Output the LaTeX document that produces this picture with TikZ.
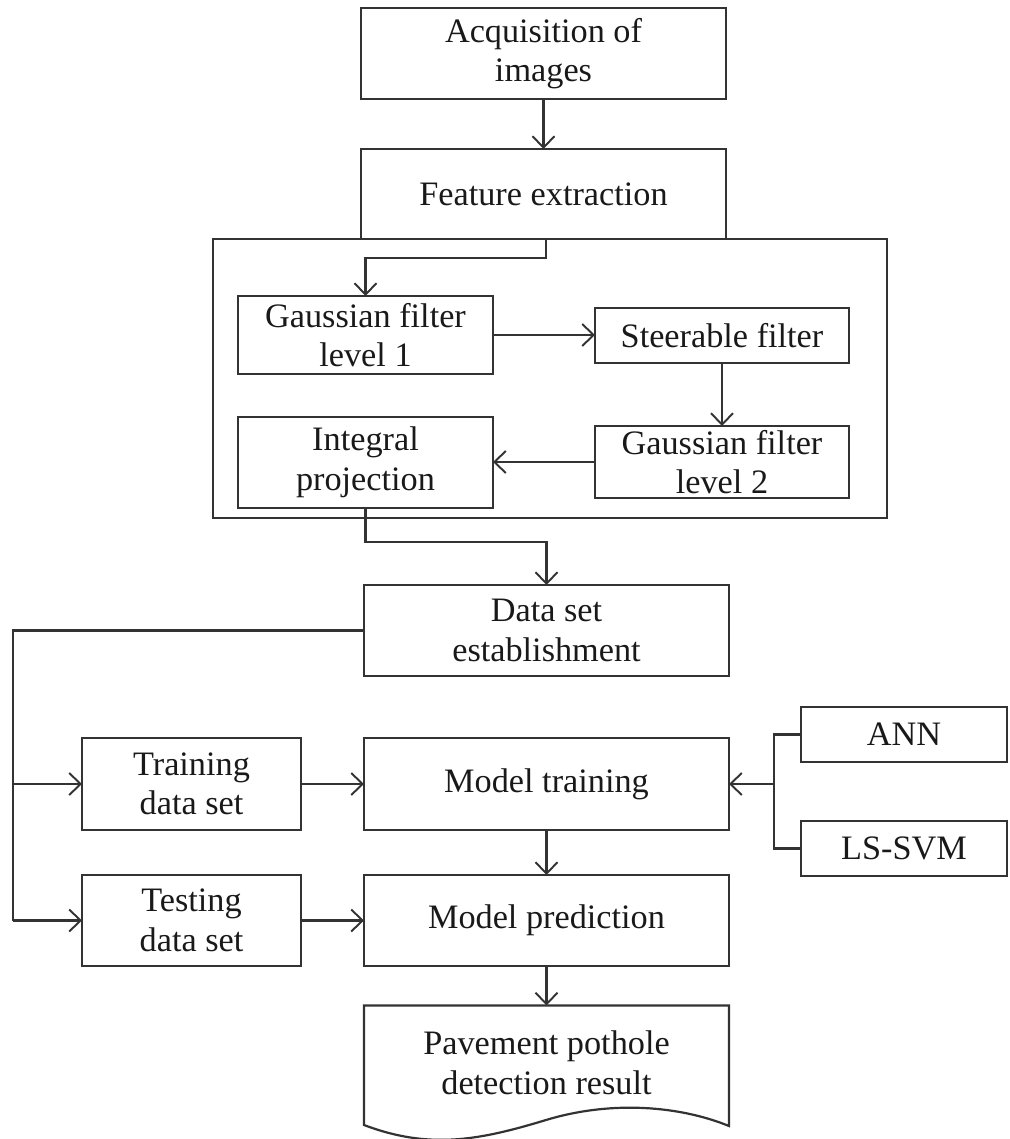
\documentclass[tikz,border=0pt]{standalone}
\usepackage{fontspec}
\setmainfont{Liberation Serif}
\usetikzlibrary{arrows.meta}
\tikzset{
  x=0.02cm, y=-0.02cm,
  every node/.style={inner sep=0pt, outer sep=0pt, align=center, text=black!90,
    font=\fontsize{19.5}{22.5}\selectfont},
  box/.style={draw=black!80, line width=1.25pt},
  conn/.style={draw=black!80, line width=1.25pt},
  arr/.style={conn, -{Straight Barb[length=6.5pt, width=12.5pt, line width=1.1pt]}},
}
\begin{document}
\begin{tikzpicture}
\useasboundingbox (0,0) rectangle (1010,1139);
% container
\node[box, minimum width=13.48cm, minimum height=5.58cm] (grp) at (550,378.5) {};
% boxes
\node[box, minimum width=7.3cm, minimum height=1.82cm] (acq) at (543.5,53.5) {Acquisition of\\images};
\node[box, minimum width=7.3cm, minimum height=1.8cm, fill=white] (fe) at (543.5,194) {Feature extraction};
\node[box, minimum width=5.1cm, minimum height=1.56cm] (g1) at (365.5,335) {Gaussian filter\\level 1};
\node[box, minimum width=5.08cm, minimum height=1.1cm] (st) at (722,335.5) {Steerable filter};
\node[box, minimum width=5.08cm, minimum height=1.44cm] (g2) at (722,462) {Gaussian filter\\level 2};
\node[box, minimum width=5.1cm, minimum height=1.82cm] (ip) at (365.5,462.5) {Integral\\projection};
\node[box, minimum width=7.3cm, minimum height=1.82cm] (ds) at (546.5,630.5) {Data set\\establishment};
\node[box, minimum width=4.38cm, minimum height=1.84cm] (tr) at (191.5,784) {Training\\data set};
\node[box, minimum width=7.3cm, minimum height=1.84cm] (mt) at (546.5,784) {Model training};
\node[box, minimum width=4.38cm, minimum height=1.82cm] (te) at (191.5,920.5) {Testing\\data set};
\node[box, minimum width=7.3cm, minimum height=1.82cm] (mp) at (546.5,920.5) {Model prediction};
\node[box, minimum width=4.12cm, minimum height=1.1cm] (ann) at (904,734.5) {ANN};
\node[box, minimum width=4.12cm, minimum height=1.1cm] (ls) at (904,848.5) {LS-SVM};
% result (document shape)
\node[minimum width=7.3cm, minimum height=2.3cm] (res) at (546.5,1063) {Pavement pothole\\detection result};
\draw[conn] (res.north west) -- (res.north east) -- (729,1126)
  .. controls (680,1106) and (612,1100) .. (546,1120)
  .. controls (480,1140) and (430,1150) .. (364,1125) -- cycle;
% connectors
\draw[arr] (acq.south) -- (fe.north);
\draw[arr] (fe.south -| 546,0) -- ++(0,19) -| (g1.north);
\draw[arr] (g1.east) -- (st.west |- g1.east);
\draw[arr] (st.south) -- (g2.north);
\draw[arr] (g2.west) -- (ip.east |- g2.west);
\draw[arr] (ip.south) -- ++(0,34) -| (ds.north);
\coordinate (split) at (13,630.5);
\draw[conn, line width=1.6pt] (ds.west) -- (split) -- (split |- tr.west);
\draw[conn] (split |- tr.west) -- (split |- te.west);
\draw[arr] (split |- tr.west) -- (tr.west);
\draw[arr] (split |- te.west) -- (te.west);
\draw[arr] (tr.east) -- (mt.west);
\draw[arr] (te.east) -- (mp.west);
\draw[arr] (mt.south) -- (mp.north);
\draw[arr] (mp.south) -- (res.north);
\coordinate (join) at (774,784);
\draw[conn] (ann.west) -| (join) |- (ls.west);
\draw[arr] (join) -- (mt.east);
\end{tikzpicture}
\end{document}
